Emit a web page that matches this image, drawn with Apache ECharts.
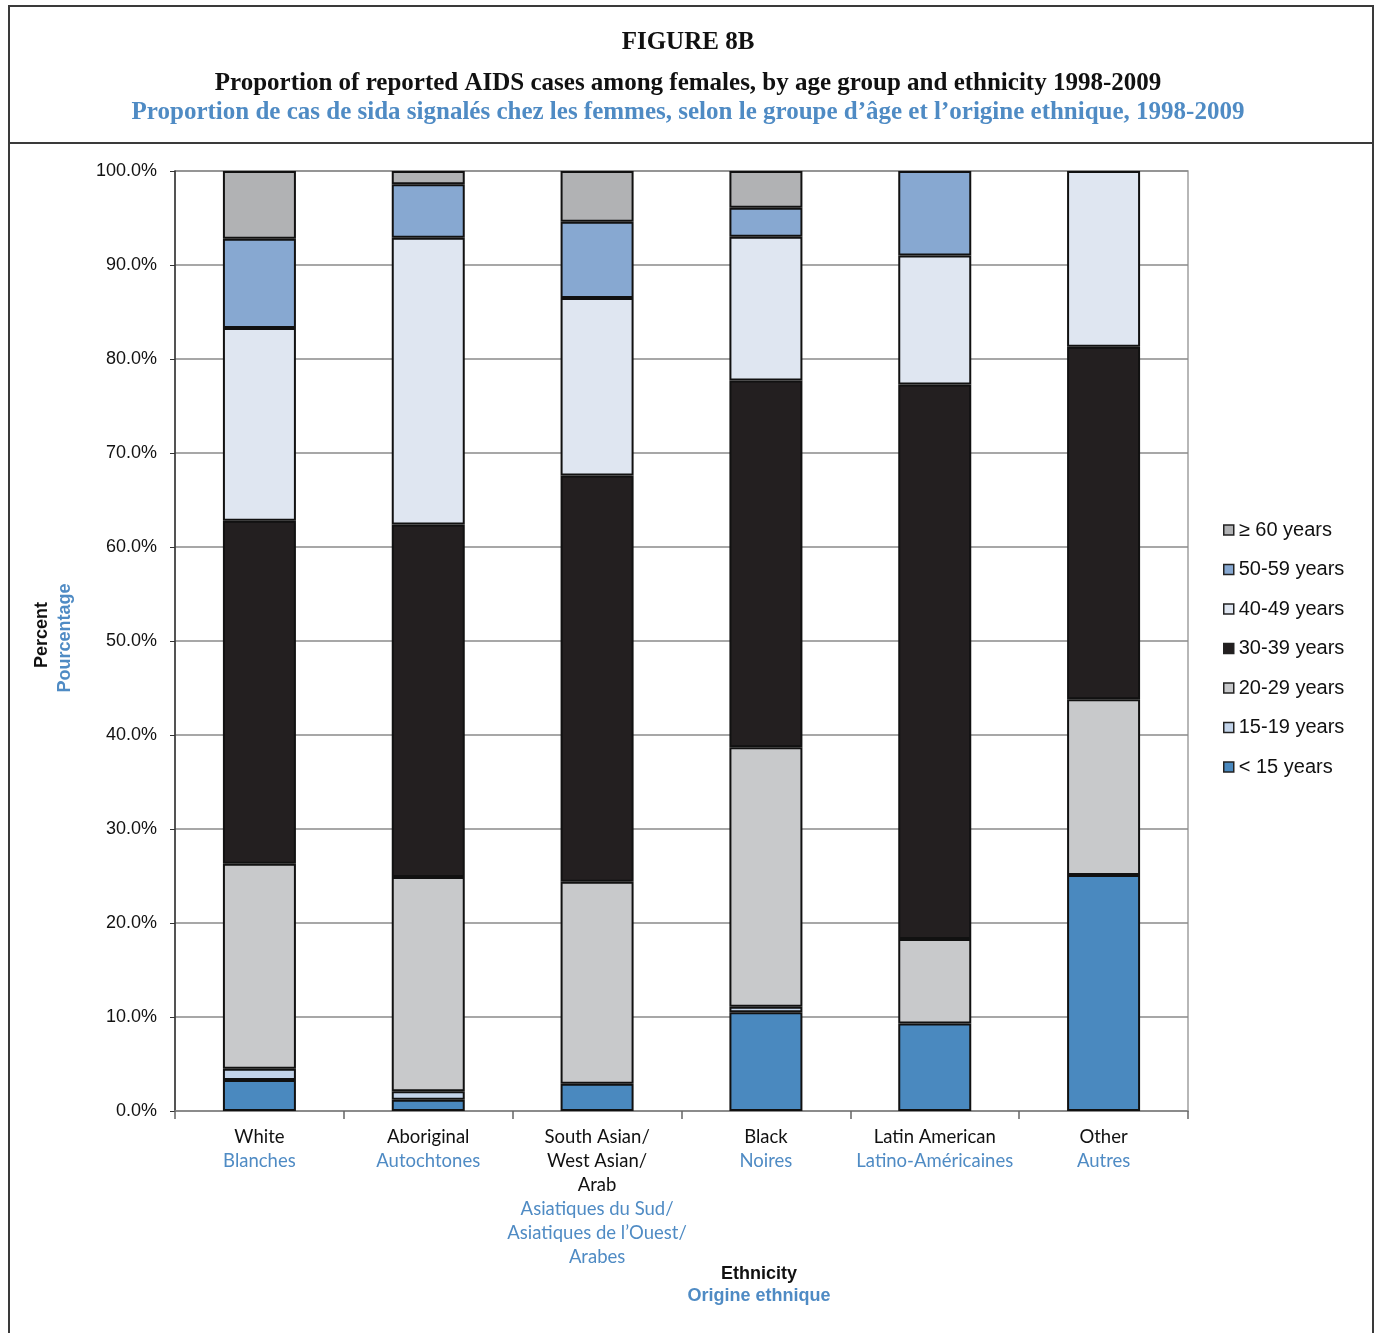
<!DOCTYPE html>
<html>
<head>
<meta charset="utf-8">
<script src="https://cdn.jsdelivr.net/npm/echarts@6/dist/echarts.min.js"></script>
<style>
html,body{margin:0;padding:0;background:#fff;}
#chart{width:1377px;height:1333px;}
</style>
</head>
<body>
<div id="chart"></div>
<script>
// Categories (English / French)
const categoriesEn = ['White', 'Aboriginal', 'South Asian/\nWest Asian/\nArab', 'Black', 'Latin American', 'Other'];
const categoriesFr = ['Blanches', 'Autochtones', 'Asiatiques du Sud/\nAsiatiques de l\u2019Ouest/\nArabes', 'Noires', 'Latino-Américaines', 'Autres'];

// Series names (stack order bottom -> top)
const seriesNames = ['< 15 years', '15-19 years', '20-29 years', '30-39 years', '40-49 years', '50-59 years', '\u2265 60 years'];

// Values (%) per category
const under15 = [3.3, 1.2, 2.9, 10.5, 9.3, 25.1];
const age15to19 = [1.2, 0.9, 0, 0.6, 0, 0];
const age20to29 = [21.8, 22.8, 21.5, 27.6, 9.0, 18.7];
const age30to39 = [36.5, 37.5, 43.2, 39.0, 59.0, 37.5];
const age40to49 = [20.5, 30.5, 18.9, 15.3, 13.7, 18.7];
const age50to59 = [9.5, 5.7, 8.1, 3.1, 9.0, 0];
const age60plus = [7.2, 1.4, 5.4, 3.9, 0, 0];

// Y tick labels
const yTicks = [0, 10, 20, 30, 40, 50, 60, 70, 80, 90, 100];

const seriesValues = [under15, age15to19, age20to29, age30to39, age40to49, age50to59, age60plus];
const seriesColors = ['#4a89bf', '#c3d4ea', '#c8c9cb', '#231f20', '#dfe6f1', '#87a8d1', '#b1b2b4'];

const BLUE = '#4f8bc4';

const chart = echarts.init(document.getElementById('chart'), null, {renderer: 'canvas'});

const option = {
  backgroundColor: '#ffffff',
  animation: false,
  grid: {
    left: 175, top: 171, width: 1013, height: 940,
    show: true, borderColor: '#a0a0a0', borderWidth: 1.5, backgroundColor: 'transparent'
  },
  legend: {
    orient: 'vertical',
    left: 1218,
    top: 515,
    itemWidth: 10,
    itemHeight: 10,
    itemGap: 19.5,
    icon: 'rect',
    data: seriesNames.slice().reverse(),
    itemStyle: {borderColor: '#222', borderWidth: 1.5},
    textStyle: {fontFamily: 'Liberation Sans, Arial, sans-serif', fontSize: 20, color: '#111', lineHeight: 20}
  },
  xAxis: {
    type: 'category',
    data: categoriesEn.map((c, i) => c),
    boundaryGap: true,
    axisLine: {show: true, lineStyle: {color: '#888', width: 1.5}},
    axisTick: {show: true, length: 8, interval: 0, lineStyle: {color: '#666', width: 1.5}},
    axisLabel: {
      interval: 0,
      margin: 14,
      formatter: function (val, idx) {
        const en = categoriesEn[idx].split('\n').map(s => '{en|' + s + '}').join('\n');
        const fr = categoriesFr[idx].split('\n').map(s => '{fr|' + s + '}').join('\n');
        return en + '\n' + fr;
      },
      rich: {
        en: {fontFamily: 'Lato, sans-serif', fontSize: 18.5, color: '#111', lineHeight: 24},
        fr: {fontFamily: 'Lato, sans-serif', fontSize: 18.5, color: BLUE, lineHeight: 24}
      }
    }
  },
  yAxis: {
    type: 'value',
    min: yTicks[0],
    max: yTicks[yTicks.length - 1],
    interval: yTicks[1] - yTicks[0],
    axisLine: {show: true, lineStyle: {color: '#333', width: 1.5}},
    axisTick: {show: true, inside: false, length: 5, lineStyle: {color: '#333'}},
    splitLine: {show: true, lineStyle: {color: '#8a8a8a', width: 1.5}},
    axisLabel: {
      margin: 18,
      formatter: v => v.toFixed(1) + '%',
      fontFamily: 'Liberation Sans, Arial, sans-serif',
      fontSize: 18,
      color: '#111'
    }
  },
  series: seriesNames.map((name, i) => ({
    name: name,
    type: 'bar',
    stack: 'total',
    barWidth: 73,
    data: seriesValues[i].map(v => (v === 0 ? null : v)),
    itemStyle: {color: seriesColors[i], borderColor: '#111', borderWidth: 2},
    emphasis: {disabled: true}
  })),
  graphic: [
    {type: 'rect', shape: {x: 9, y: 6, width: 1364, height: 1340}, style: {fill: 'none', stroke: '#3a3a3a', lineWidth: 2}, silent: true},
    {type: 'line', shape: {x1: 9, y1: 143, x2: 1373, y2: 143}, style: {stroke: '#3a3a3a', lineWidth: 2}, silent: true},
    {type: 'text', x: 688, y: 43, style: {text: 'FIGURE 8B', font: 'bold 25px "Liberation Serif", serif', fill: '#111', align: 'center', verticalAlign: 'middle'}},
    {type: 'text', x: 688, y: 84, style: {text: 'Proportion of reported AIDS cases among females, by age group and ethnicity 1998-2009', font: 'bold 25px "Liberation Serif", serif', fill: '#111', align: 'center', verticalAlign: 'middle'}},
    {type: 'text', x: 688, y: 113, style: {text: 'Proportion de cas de sida signalés chez les femmes, selon le groupe d\u2019âge et l\u2019origine ethnique, 1998-2009', font: 'bold 25px "Liberation Serif", serif', fill: BLUE, align: 'center', verticalAlign: 'middle'}},
    {type: 'text', x: 42, y: 635, rotation: Math.PI / 2, style: {text: 'Percent', font: 'bold 18px "Liberation Sans", Arial, sans-serif', fill: '#111', align: 'center', verticalAlign: 'middle'}},
    {type: 'text', x: 65, y: 638, rotation: Math.PI / 2, style: {text: 'Pourcentage', font: 'bold 18px "Liberation Sans", Arial, sans-serif', fill: BLUE, align: 'center', verticalAlign: 'middle'}},
    {type: 'text', x: 759, y: 1274, style: {text: 'Ethnicity', font: 'bold 18px "Liberation Sans", Arial, sans-serif', fill: '#111', align: 'center', verticalAlign: 'middle'}},
    {type: 'text', x: 759, y: 1296, style: {text: 'Origine ethnique', font: 'bold 18px "Liberation Sans", Arial, sans-serif', fill: BLUE, align: 'center', verticalAlign: 'middle'}}
  ]
};
chart.setOption(option);
</script>
</body>
</html>
